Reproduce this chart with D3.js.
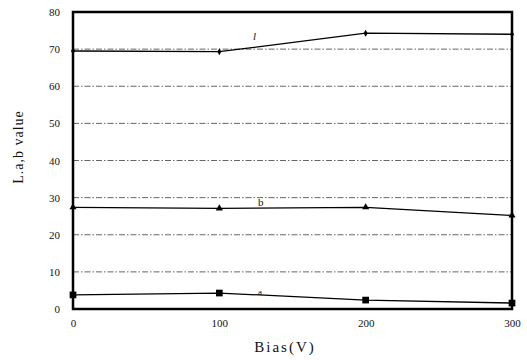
<!DOCTYPE html>
<html>
<head>
<meta charset="utf-8">
<script src="https://cdn.jsdelivr.net/npm/d3@7"></script>
<style>
  html, body { margin: 0; padding: 0; background: #fff; }
  svg { display: block; }
  text { font-family: "Liberation Serif", "DejaVu Serif", serif; fill: #111; }
</style>
</head>
<body>
<svg id="chart" width="527" height="360"></svg>
<script>
const biasValues = [0, 100, 200, 300];
const seriesL = [69.5, 69.3, 74.3, 74.0];
const seriesB = [27.4, 27.1, 27.4, 25.2];
const seriesA = [3.8, 4.3, 2.4, 1.6];
const yTicks = [0, 10, 20, 30, 40, 50, 60, 70, 80];
const xTicks = [0, 100, 200, 300];
const gridValues = [10, 20, 30, 40, 50, 60, 70];

const svg = d3.select("#chart");
const plotLeft = 73, plotRight = 512, plotTop = 12, plotBottom = 309;

const x = d3.scaleLinear().domain([0, 300]).range([plotLeft, plotRight]);
const y = d3.scaleLinear().domain([0, 80]).range([plotBottom, plotTop]);

// gridlines
svg.append("g").selectAll("line").data(gridValues).join("line")
  .attr("x1", plotLeft).attr("x2", plotRight)
  .attr("y1", d => y(d)).attr("y2", d => y(d))
  .attr("stroke", "#555").attr("stroke-width", 0.9)
  .attr("stroke-dasharray", "6,2,1.5,2");

// axes (tick labels only)
const yAxis = d3.axisLeft(y).tickValues(yTicks).tickSize(0).tickPadding(13);
const gy = svg.append("g").attr("transform", `translate(${plotLeft},0)`).call(yAxis);
gy.select(".domain").remove();
gy.selectAll("text").style("font-size", "11px").style("font-family", '"Liberation Serif", serif').attr("fill", "#333");

const xAxis = d3.axisBottom(x).tickValues(xTicks).tickSize(0).tickPadding(10);
const gx = svg.append("g").attr("transform", `translate(0,${plotBottom})`).call(xAxis);
gx.select(".domain").remove();
gx.selectAll("text").style("font-size", "11px").style("font-family", '"Liberation Serif", serif').attr("fill", "#333");

// frame
svg.append("rect")
  .attr("x", plotLeft).attr("y", plotTop)
  .attr("width", plotRight - plotLeft).attr("height", plotBottom - plotTop)
  .attr("fill", "none").attr("stroke", "#000").attr("stroke-width", 2.5);

const line = d3.line().x((d, i) => x(biasValues[i])).y(d => y(d));

function drawSeries(vals, shape, size) {
  svg.append("path").datum(vals)
    .attr("d", line)
    .attr("fill", "none").attr("stroke", "#000").attr("stroke-width", 1.3);
  svg.append("g").selectAll("path").data(vals).join("path")
    .attr("transform", (d, i) => `translate(${x(biasValues[i])},${y(d)})`)
    .attr("d", d3.symbol().type(shape).size(size))
    .attr("fill", "#000");
}
drawSeries(seriesL, d3.symbolDiamond, 14);
drawSeries(seriesB, d3.symbolTriangle, 22);
drawSeries(seriesA, d3.symbolSquare, 45);

// series labels
svg.append("text").attr("x", 253).attr("y", y(72.5)).text("l")
  .style("font-size", "11px").style("font-style", "italic");
svg.append("text").attr("x", 258).attr("y", y(27.8)).text("b")
  .style("font-size", "11px");
svg.append("text").attr("x", 258).attr("y", y(3.8)).text("a")
  .style("font-size", "9px");

// axis titles
svg.append("text")
  .attr("x", 285).attr("y", 352)
  .attr("text-anchor", "middle")
  .style("font-size", "15px").style("letter-spacing", "2px")
  .text("Bias(V)");
svg.append("text")
  .attr("transform", "translate(23,147) rotate(-90)")
  .attr("text-anchor", "middle")
  .style("font-size", "14px").style("letter-spacing", "1px")
  .text("L.a,b value");
</script>
</body>
</html>
